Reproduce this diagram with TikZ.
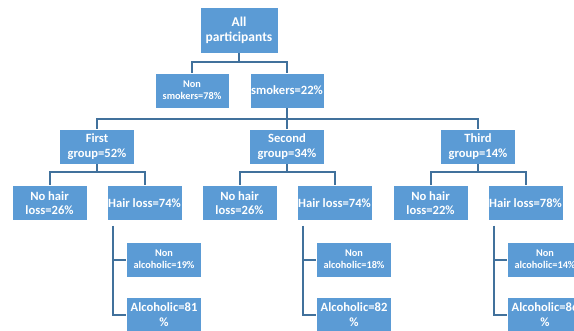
\documentclass[tikz,border=0pt]{standalone}
\usepackage{fontspec}
\setmainfont{Carlito}
\definecolor{boxblue}{HTML}{5B9BD5}
\definecolor{linkblue}{HTML}{41719C}
\tikzset{
  box/.style={fill=boxblue, draw=white, line width=0.6pt, text=white,
    font=\bfseries\fontsize{12.6}{14.5}\selectfont, align=center,
    minimum width=75pt, minimum height=35pt, inner sep=0pt},
  small/.style={font=\bfseries\fontsize{10.3}{12}\selectfont},
  link/.style={draw=linkblue, line width=2pt},
}
\begin{document}
\begin{tikzpicture}[x=1pt,y=-1pt]
  \clip (0,0) rectangle (574,330);
  % top of the tree
  \node[box,minimum width=78pt,minimum height=46pt,font=\bfseries\fontsize{13.5}{15}\selectfont] (all) at (239,30) {All\\participants};
  \node[box,small,minimum width=74pt] (non) at (192,90.5) {Non\\smokers=78\%};
  \node[box,minimum width=74pt] (smk) at (287,90.5) {smokers=22\%};
  \draw[link] (all.south) -- ++(0,9) coordinate (jall);
  \draw[link] (jall) -| (non.north);
  \draw[link] (jall) -| (smk.north);
  % the three groups
  \foreach \i/\x/\name/\pg/\pn/\ph/\pna/\pal in {1/97/First/52/26/74/19/81, 2/287/Second/34/26/74/18/82, 3/478/Third/14/22/78/14/86} {
    \node[box] (g\i) at (\x,146.5) {\name\\group=\pg\%};
    \node[box] (n\i) at (\x-47.5,203) {No hair\\loss=\pn\%};
    \node[box] (h\i) at (\x+47.5,203) {Hair loss=\ph\%};
    \node[box,small] (na\i) at (\x+67,259.5) {Non\\alcoholic=\pna\%};
    \node[box] (al\i) at (\x+67,314.5) {Alcoholic=\pal\\\%};
    \draw[link] (g\i.south) -- ++(0,8) coordinate (j\i);
    \draw[link] (j\i) -| (n\i.north);
    \draw[link] (j\i) -| (h\i.north);
    \draw[link] ([xshift=6pt,yshift=-5pt]h\i.south west) |- (na\i.west);
    \draw[link] ([xshift=6pt,yshift=-5pt]h\i.south west) |- (al\i.west);
  }
  \draw[link] (smk.south) -- ++(0,11) coordinate (jsmk);
  \foreach \i in {1,2,3} \draw[link] (jsmk) -| (g\i.north);
\end{tikzpicture}
\end{document}
